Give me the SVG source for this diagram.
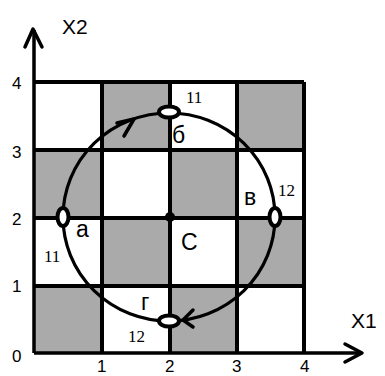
<svg xmlns="http://www.w3.org/2000/svg" width="385" height="376" viewBox="0 0 385 376">
<style>
.cell{fill:#aaaaaa}
.grid{stroke:#000;stroke-width:4;fill:none}
.ax{stroke:#000;stroke-width:3.5;fill:none}
.arr{stroke:#000;stroke-width:3.5;fill:none;stroke-linecap:round;stroke-linejoin:round}
.node{fill:#fff;stroke:#000;stroke-width:4}
.tick{font-family:"Liberation Sans",Arial,sans-serif;font-size:17px;fill:#000}
.lab{font-family:"Liberation Sans",Arial,sans-serif;font-size:23px;fill:#000}
.num{font-family:"Liberation Serif","Times New Roman",serif;font-size:17px;fill:#000}
.axl{font-family:"Liberation Sans",Arial,sans-serif;font-size:21px;fill:#000}
</style>
<rect width="385" height="376" fill="#fff"/>
<g id="board">
<rect class="cell" x="102" y="82" width="68" height="68"/>
<rect class="cell" x="237" y="82" width="67" height="68"/>
<rect class="cell" x="34" y="150" width="68" height="68"/>
<rect class="cell" x="170" y="150" width="67" height="68"/>
<rect class="cell" x="102" y="218" width="68" height="68"/>
<rect class="cell" x="237" y="218" width="67" height="68"/>
<rect class="cell" x="34" y="286" width="68" height="67"/>
<rect class="cell" x="170" y="286" width="67" height="67"/>
<path class="grid" d="M102 82V353M170 82V353M237 82V353M304 82V353M34 82H304M34 150H304M34 218H304M34 286H304"/>
</g>
<g id="axes">
<path class="ax" d="M34 353V30M34 353H362"/>
<path class="arr" d="M25 47L33 29L42 47M345 344L362 353L345 362"/>
<text class="axl" x="62" y="34">X2</text>
<text class="axl" x="351" y="328">X1</text>
<text class="tick" x="12" y="89">4</text>
<text class="tick" x="12" y="158">3</text>
<text class="tick" x="12" y="225">2</text>
<text class="tick" x="12" y="292">1</text>
<text class="tick" x="12" y="362">0</text>
<text class="tick" x="97" y="372">1</text>
<text class="tick" x="165" y="372">2</text>
<text class="tick" x="232" y="372">3</text>
<text class="tick" x="300" y="372">4</text>
</g>
<g id="connectors">
<ellipse cx="169" cy="217" rx="106" ry="104" fill="none" stroke="#000" stroke-width="3.2"/>
<path class="arr" d="M117 123L134 119L124 136"/>
<path class="arr" d="M193 310L183 320L193 327"/>
</g>
<g id="C">
<circle cx="170" cy="217" r="5" fill="#000"/>
<text class="lab" x="181" y="250">С</text>
</g>
<g id="a">
<ellipse class="node" cx="63" cy="217" rx="5.5" ry="9"/>
<text class="lab" x="76" y="237">а</text>
<text class="num" x="44" y="262">11</text>
</g>
<g id="b">
<ellipse class="node" cx="169" cy="112" rx="10" ry="5.5"/>
<text class="lab" x="172" y="143">б</text>
<text class="num" x="186" y="103">11</text>
</g>
<g id="v">
<ellipse class="node" cx="275" cy="217" rx="5.5" ry="9"/>
<text class="lab" x="244" y="205">в</text>
<text class="num" x="278" y="196">12</text>
</g>
<g id="g">
<ellipse class="node" cx="169" cy="321" rx="10" ry="5.5"/>
<text class="lab" x="141" y="310">г</text>
<text class="num" x="128" y="342">12</text>
</g>
</svg>
